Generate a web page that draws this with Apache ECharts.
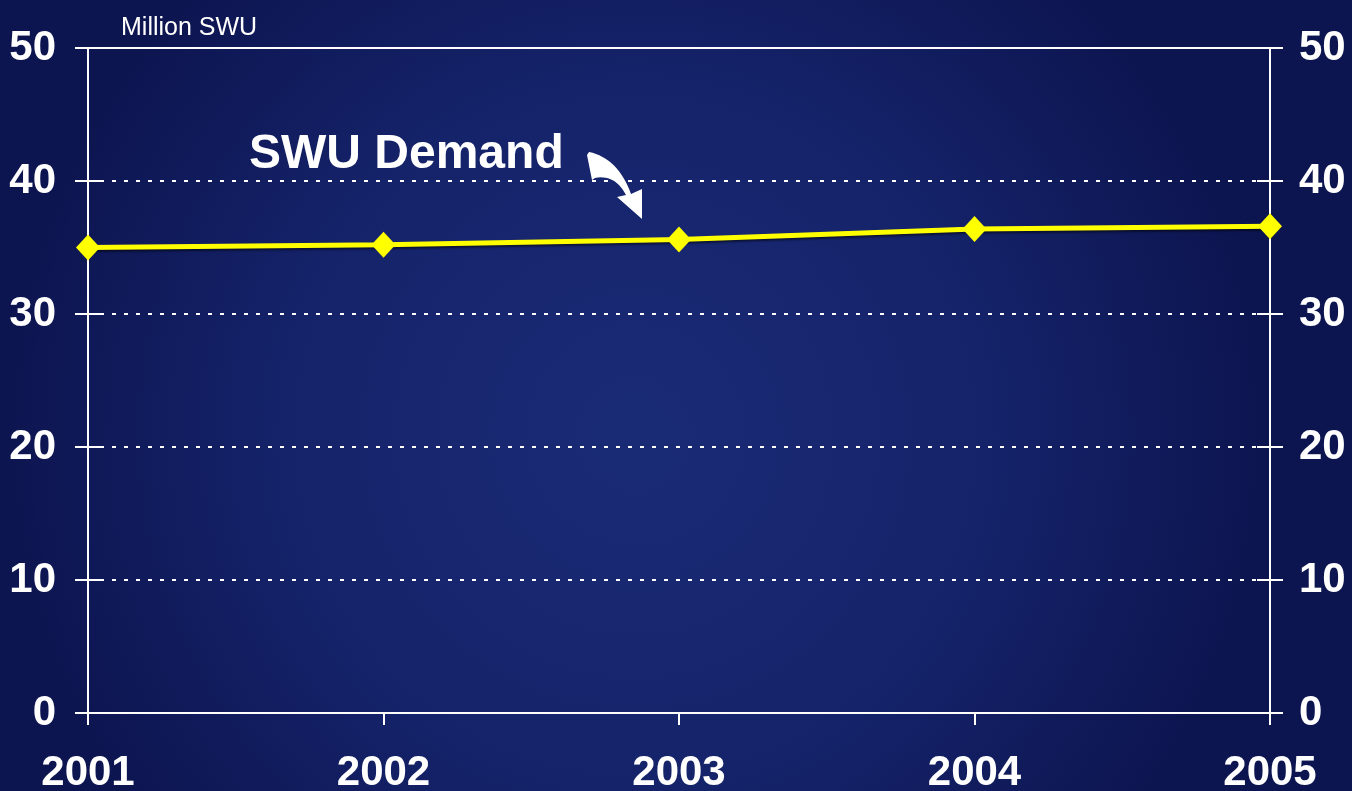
<!DOCTYPE html>
<html><head><meta charset="utf-8">
<script src="https://cdn.jsdelivr.net/npm/echarts@6/dist/echarts.min.js"></script>
<style>html,body{margin:0;padding:0;background:#0e1650}#c{width:1352px;height:791px}</style>
</head><body><div id="c"></div>
<script>
const years = ['2001', '2002', '2003', '2004', '2005'];
const swuDemand = [35.0, 35.2, 35.6, 36.4, 36.6];
const yMin = 0, yMax = 50, yStep = 10;
const unitLabel = 'Million SWU';
const seriesLabel = 'SWU Demand';

const FONT = '"Liberation Sans", Arial, sans-serif';
const chart = echarts.init(document.getElementById('c'), null, {renderer: 'canvas'});

function yAx(pos, showLabel, inside, margin) {
  return {
    type: 'value', position: pos, min: yMin, max: yMax, interval: yStep,
    axisLine: {show: !inside, lineStyle: {color: '#fff', width: 2}},
    axisTick: {show: true, inside: inside, length: 13, lineStyle: {color: '#fff', width: 2}},
    axisLabel: {show: showLabel, color: '#fff', fontSize: 42, fontWeight: 'bold', fontFamily: FONT, margin: margin, padding: [6, 0, 0, 0]},
    splitLine: {show: pos === 'left' && !inside, lineStyle: {color: '#fff', width: 2, type: [4, 8]}}
  };
}

// curved arrow outline (decoration)
function quad(p0, p1, p2, n) {
  const pts = [];
  for (let i = 0; i <= n; i++) {
    const t = i / n, a = (1 - t) * (1 - t), b = 2 * (1 - t) * t, c = t * t;
    pts.push([a * p0[0] + b * p1[0] + c * p2[0], a * p0[1] + b * p1[1] + c * p2[1]]);
  }
  return pts;
}
const arrowPts = [].concat(
  quad([589, 152], [618, 158], [631, 194], 16),
  [[642, 189], [642, 219], [617, 197]],
  quad([626, 195], [615, 174], [595, 178], 14),
  [[592, 180], [587, 155]]
);

chart.setOption({
  backgroundColor: {
    type: 'radial', x: 0.47, y: 0.55, r: 0.8,
    colorStops: [
      {offset: 0, color: '#1a2b76'},
      {offset: 0.55, color: '#15236a'},
      {offset: 1, color: '#0d1550'}
    ]
  },
  animation: false,
  grid: {left: 88, right: 82, top: 48, bottom: 78, containLabel: false, outerBoundsMode: 'none'},
  title: [
    {text: unitLabel, left: 121, top: 16, padding: 0, textStyle: {color: '#fff', fontSize: 25, fontWeight: 'normal', fontFamily: FONT}},
    {text: seriesLabel, left: 249, top: 131, padding: 0, textStyle: {color: '#fff', fontSize: 48, fontWeight: 'bold', fontFamily: FONT}}
  ],
  xAxis: [
    {
      type: 'category', data: years, boundaryGap: false, position: 'bottom',
      axisLine: {onZero: false, lineStyle: {color: '#fff', width: 2}},
      axisTick: {show: true, length: 12, alignWithLabel: true, lineStyle: {color: '#fff', width: 2}},
      axisLabel: {color: '#fff', fontSize: 42, fontWeight: 'bold', fontFamily: FONT, margin: 39, interval: 0},
      splitLine: {show: false}
    },
    {
      type: 'category', data: years, boundaryGap: false, position: 'top',
      axisLine: {show: true, onZero: false, lineStyle: {color: '#fff', width: 2}},
      axisTick: {show: false}, axisLabel: {show: false}, splitLine: {show: false}
    }
  ],
  yAxis: [
    yAx('left', true, false, 32),
    yAx('left', false, true, 8),
    yAx('right', true, false, 29),
    yAx('right', false, true, 8)
  ],
  series: [{
    type: 'line', data: swuDemand, xAxisIndex: 0, yAxisIndex: 0,
    symbol: 'diamond', symbolSize: [24, 26], showSymbol: true,
    lineStyle: {color: '#ffff00', width: 5, shadowColor: 'rgba(0,0,0,0.5)', shadowOffsetY: 2, shadowBlur: 2},
    itemStyle: {color: '#ffff00'},
    z: 5
  }],
  graphic: [{
    type: 'polygon',
    shape: {points: arrowPts},
    style: {fill: '#fff'}
  }]
});
</script></body></html>
